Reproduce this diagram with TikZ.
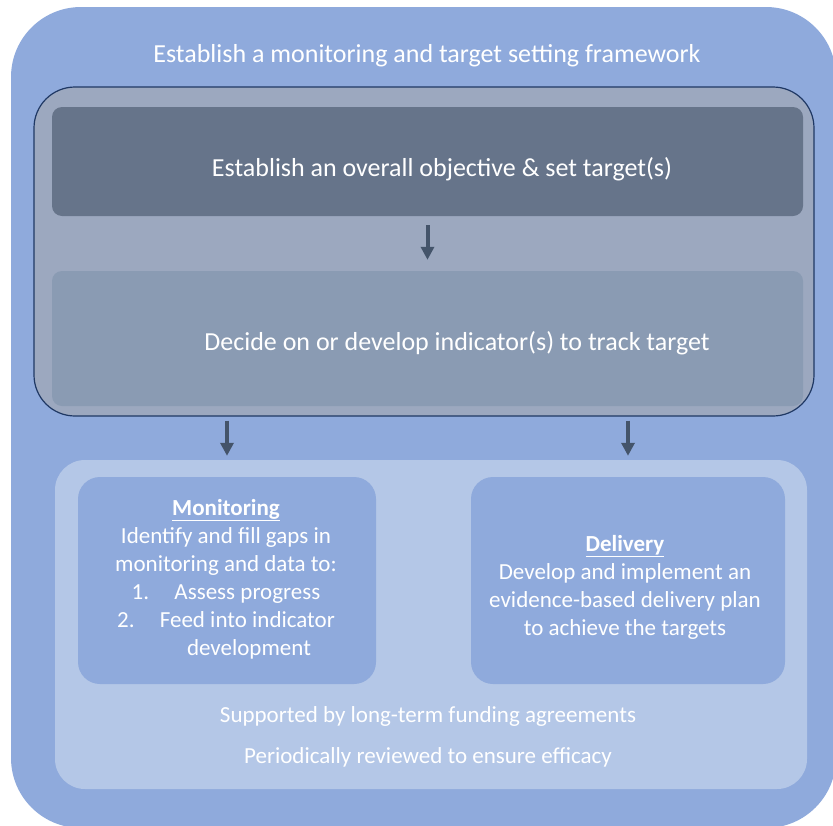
\documentclass[tikz,border=0pt]{standalone}
\usepackage{fontspec}
\setmainfont{Carlito}
\usetikzlibrary{arrows.meta,positioning}

\definecolor{frameblue}{HTML}{8FAADC}
\definecolor{stepgray}{HTML}{9CA8BF}
\definecolor{stepline}{HTML}{1F3864}
\definecolor{objdark}{HTML}{66748A}
\definecolor{indgray}{HTML}{8A9BB3}
\definecolor{panelblue}{HTML}{B4C7E7}
\definecolor{arrowgray}{HTML}{44546A}

\tikzset{
  box/.style={rectangle, inner sep=0pt, draw=none},
  arr/.style={draw=arrowgray, line width=4pt, -{Triangle[width=13pt,length=13pt]}},
  big/.style={text=white, font=\fontsize{26}{30}\selectfont},
  small/.style={text=white, font=\fontsize{23}{28}\selectfont, align=center},
}

\begin{document}
\begin{tikzpicture}[x=1pt, y=-1pt]
  \useasboundingbox (0,0) rectangle (833,825);
  \clip (0,0) rectangle (833,825);

  \node[box, fill=frameblue, rounded corners=70pt, minimum width=825pt, minimum height=821pt] (outer) at (423.5,417.5) {};
  \node[big] (title) at (427,56) {Establish a monitoring and target setting framework};

  \node[box, fill=stepgray, draw=stepline, line width=1.2pt, rounded corners=41pt,
        minimum width=780pt, minimum height=329pt] (frame) at (424,251.5) {};
  \node[box, fill=objdark, rounded corners=10pt, minimum width=751pt, minimum height=109pt] (objective) at (427.5,161.5) {};
  \node[box, fill=indgray, rounded corners=10pt, minimum width=751pt, minimum height=135pt] (indicator) at (427.5,338.5) {};
  \node[big] at (442,169) {Establish an overall objective \& set target(s)};
  \node[big] at (457,343) {Decide on or develop indicator(s) to track target};

  \node[box, fill=panelblue, rounded corners=30pt, minimum width=752pt, minimum height=329pt] (panel) at (431,624.5) {};
  \node[box, fill=frameblue, rounded corners=22pt, minimum width=298pt, minimum height=207pt] (monitor) at (227,580.5) {};
  \node[box, fill=frameblue, rounded corners=22pt, minimum width=314pt, minimum height=207pt] (delivery) at (628,580.5) {};

  \node[small] (montext) at (226,579) {\underline{\textbf{Monitoring}}\\
    Identify and fill gaps in\\
    monitoring and data to:\\
    1.\hspace{1.1em}Assess progress\\
    2.\hspace{1.1em}Feed into indicator\\
    \hspace*{2em}development};
  \node[small] (deltext) at (625,587) {\underline{\textbf{Delivery}}\\
    Develop and implement an\\
    evidence-based delivery plan\\
    to achieve the targets};

  \node[small] (funding) at (428,716) {Supported by long-term funding agreements};
  \node[small, below=14pt of funding] (review) {Periodically reviewed to ensure efficacy};

  \draw[arr, shorten <=9pt, shorten >=11pt] (objective.south) -- (indicator.north);
  \draw[arr, shorten <=4pt, shorten >=4pt] (monitor.north |- frame.south) -- (monitor.north |- panel.north);
  \draw[arr, shorten <=4pt, shorten >=4pt] (delivery.north |- frame.south) -- (delivery.north |- panel.north);
\end{tikzpicture}
\end{document}
